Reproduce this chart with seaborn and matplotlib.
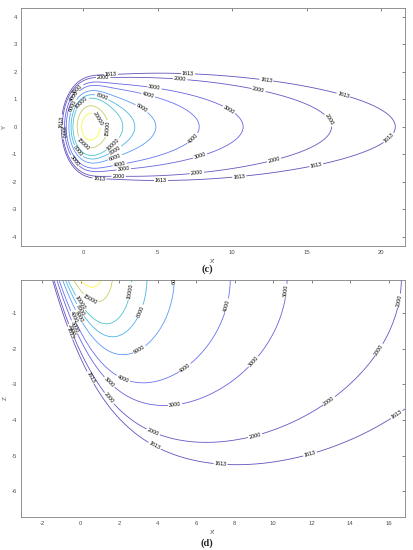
import numpy as np
import matplotlib
matplotlib.use("Agg")
import matplotlib.pyplot as plt
import seaborn as sns

# 1. DATA
levels = [1613, 2000, 3000, 4000, 6000, 8000, 10000, 15000, 20000]

# moving distributed source, values fitted to the contour extents
src_amp = 25400.0
src_sigma = [0.72, 0.72, 0.001]   # x, y, z
diffusivity = [0.10, 0.0987, 1.0]  # x, y, z  (speed = 1)

c_xlim = [-4.2, 21.6]
c_ylim = [-4.33, 4.33]
c_xticks = [0, 5, 10, 15, 20]
c_yticks = [-4, -3, -2, -1, 0, 1, 2, 3, 4]

d_xlim = [-3.1, 16.85]
d_zlim = [-6.72, -0.06]
d_xticks = [-2, 0, 2, 4, 6, 8, 10, 12, 14, 16]
d_zticks = [-6, -5, -4, -3, -2, -1]

parula = ["#3e26a8", "#4443e6", "#3e70fe", "#2796eb", "#13afd5",
          "#26bdb2", "#5dc98a", "#a8c53f", "#e6bb2f", "#fdc926", "#f9f814"]

# 2. SETTINGS
sns.set_style("white")
plt.rcParams["font.family"] = ["Liberation Sans", "DejaVu Sans"]
plt.rcParams["axes.unicode_minus"] = False
cmap = sns.blend_palette(parula, as_cmap=True)

# matlab maps the levels from first to last on the colormap; thin lines
# read lighter on the reference, so mix in a little white
lv = np.array(levels, dtype=float)
line_colors = [tuple(0.8 * np.array(cmap(v)[:3]) + 0.2)
               for v in (lv - lv.min()) / (lv.max() - lv.min())]


def field(x, y, z):
    # integral over the travel time of a gaussian source moving in -x
    ax_, ay_, az_ = diffusivity
    sx, sy, sz = src_sigma
    total = np.zeros_like(x)
    du = 0.005
    for u in np.arange(du / 2, 7.0, du):
        t = u * u
        wx = 4 * ax_ * t + 2 * sx ** 2
        wy = 4 * ay_ * t + 2 * sy ** 2
        wz = 4 * az_ * t + 2 * sz ** 2
        total += np.exp(-(x - t) ** 2 / wx - y ** 2 / wy - z ** 2 / wz) \
            / np.sqrt(wx * wy * wz) * 2 * u * du
    return src_amp * total


def label_spots(ax, cs, step, first):
    # label every `step` pixels along each line, like matlab does
    spots = []
    for path in cs.get_paths():
        for seg in path.to_polygons(closed_only=False):
            if len(seg) < 2:
                continue
            pix = ax.transData.transform(seg)
            dist = np.r_[0, np.cumsum(np.hypot(*np.diff(pix, axis=0).T))]
            for s in np.arange(first, dist[-1] - 8, step):
                i = min(np.searchsorted(dist, s), len(seg) - 1)
                spots.append((seg[i, 0], seg[i, 1]))
    return spots


def style_axes(ax, xlim, ylim, xticks, yticks):
    ax.set_xlim(xlim)
    ax.set_ylim(ylim)
    ax.set_xticks(xticks)
    ax.set_yticks(yticks)
    ax.tick_params(direction="in", length=2.5, width=0.5, labelsize=4.2,
                   colors="0.3", top=True, right=True, pad=3)
    for sp in ax.spines.values():
        sp.set_color("0.5")
        sp.set_linewidth(0.6)


def draw_panel(ax, gx, gy, vals, xname, yname):
    cs = ax.contour(gx, gy, vals, levels=levels, colors=line_colors,
                    linewidths=0.6)
    ax.clabel(cs, fmt="%d", fontsize=3.9, colors="k", inline=True,
              inline_spacing=1, manual=label_spots(ax, cs, 78, 28))
    ax.set_xlabel(xname, fontsize=4.5, color="0.3", labelpad=3)
    ax.set_ylabel(yname, fontsize=4.5, color="0.3", labelpad=3)


fig = plt.figure(figsize=(4.14, 5.5), dpi=100)

# 3. PANEL (c): X'-Y plane at the surface
ax1 = fig.add_axes([0.0507, 0.5533, 0.9275, 0.4322])
style_axes(ax1, c_xlim, c_ylim, c_xticks, c_yticks)
gx, gy = np.meshgrid(np.linspace(c_xlim[0], c_xlim[1], 300),
                     np.linspace(c_ylim[0], c_ylim[1], 200))
draw_panel(ax1, gx, gy, field(gx, gy, np.zeros_like(gx)), "X'", "Y")
fig.text(0.5, 0.511, "(c)", ha="center", va="center", fontsize=7.5,
         fontweight="bold", family="Liberation Serif")

# 4. PANEL (d): X'-Z plane on the axis
ax2 = fig.add_axes([0.0507, 0.0605, 0.9275, 0.4305])
style_axes(ax2, d_xlim, d_zlim, d_xticks, d_zticks)
gx, gz = np.meshgrid(np.linspace(d_xlim[0], d_xlim[1], 280),
                     np.linspace(d_zlim[0], 0.0, 200))
draw_panel(ax2, gx, gz, field(gx, np.zeros_like(gx), gz), "X'", "Z")
fig.text(0.5, 0.0127, "(d)", ha="center", va="center", fontsize=7.5,
         fontweight="bold", family="Liberation Serif")

plt.savefig("out.png", dpi=100)
